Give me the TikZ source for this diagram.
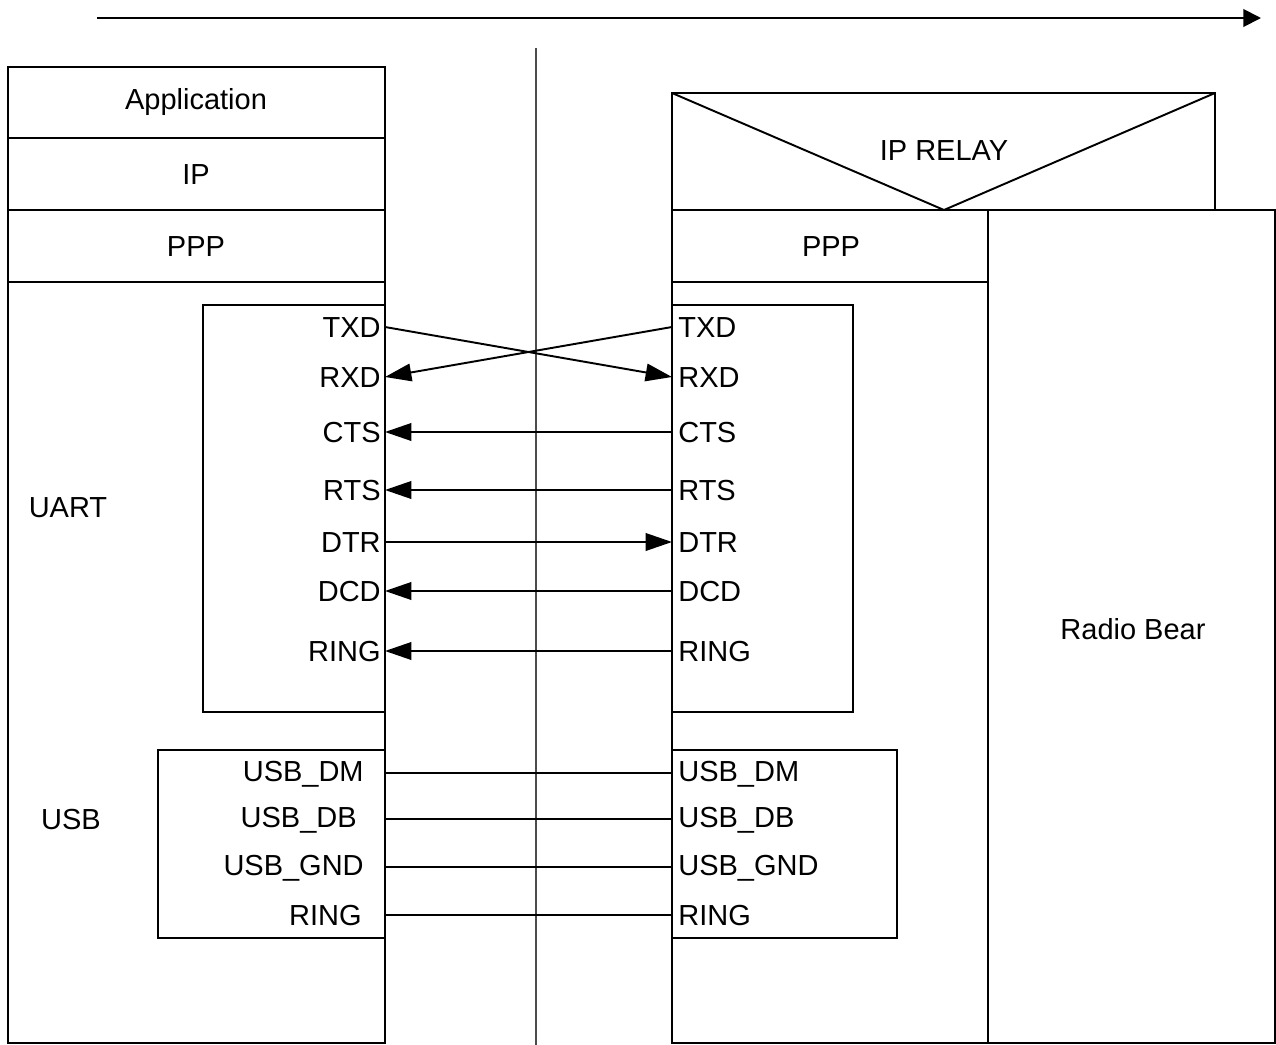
\documentclass[tikz,border=0pt]{standalone}
\usepackage{fontspec}
\setmainfont{Liberation Sans}
\usetikzlibrary{arrows.meta}
\begin{document}
\begin{tikzpicture}[x=0.02cm,y=-0.02cm,
  box/.style={draw=black,line width=1.1pt},
  lbl/.style={font=\fontsize{16.5}{18}\selectfont,inner sep=0pt},
  sig/.style={line width=1.1pt},
  sigar/.style={line width=1.1pt,-{Triangle[length=15pt,width=10pt]}},
  toparr/.style={line width=1.1pt,-{Triangle[length=10pt,width=10pt]}},
  thin/.style={line width=0.6pt,draw=black!70}]
\useasboundingbox (0,0) rectangle (1276,1045);
% direction arrow
\coordinate (aS) at (97,18);
\coordinate (aE) at (1261,18);
\draw[toparr] (aS) -- (aE);
% separator
\coordinate (sT) at (536,48);
\coordinate (sB) at (536,1045);
\draw[thin] (sT) -- (sB);
% left stack
\draw[box] (8,67) rectangle (385,138);
\draw[box] (8,138) rectangle (385,210);
\draw[box] (8,210) rectangle (385,282);
\draw[box] (8,282) rectangle (385,1043);
\node[lbl] (app) at (196,102) {Application};
\node[lbl] (ipl) at (196,175) {IP};
\node[lbl] (pppl) at (196,247) {PPP};
\node[lbl] (uart) at (68,508) {UART};
\node[lbl] (usb) at (71,820) {USB};
\draw[box] (203,305) rectangle (385,712);
\draw[box] (158,750) rectangle (385,938);
% right stack
\draw[box] (672,93) rectangle (1215,210);
\draw[line width=1.1pt] (672,93) -- (944,210) -- (1215,93);
\node[lbl] (iprelay) at (944,151) {IP RELAY};
\draw[box] (672,210) rectangle (988,282);
\node[lbl] (pppr) at (831,247) {PPP};
\draw[box] (672,282) rectangle (988,1043);
\draw[box] (988,210) rectangle (1275,1043);
\node[lbl] (radio) at (1133,629) {Radio Bear};
\draw[box] (672,305) rectangle (853,712);
\draw[box] (672,750) rectangle (897,938);
% pin labels and coordinates
\foreach \nm/\t/\yy in {TXD/TXD/327,RXD/RXD/377,CTS/CTS/432,RTS/RTS/490,DTR/DTR/542,DCD/DCD/591,RING/RING/651}{
  \node[lbl,anchor=east] (lt\nm) at (381,\yy+1) {\t};
  \node[lbl,anchor=west] (rt\nm) at (678,\yy+1) {\t};
  \coordinate (l\nm) at (385,\yy);
  \coordinate (r\nm) at (672,\yy);
}
\foreach \nm/\t/\yy/\xe in {DM/USB\_DM/773/364,DB/USB\_DB/819/357,GND/USB\_GND/867/364,URING/RING/915/362}{
  \node[lbl,anchor=east] (lt\nm) at (\xe,\yy+1) {\t};
  \node[lbl,anchor=west] (rt\nm) at (678,\yy+1) {\t};
  \coordinate (l\nm) at (385,\yy);
  \coordinate (r\nm) at (672,\yy);
}
% connectors
\draw[sigar] (lTXD) -- (rRXD);
\draw[sigar] (rTXD) -- (lRXD);
\draw[sigar] (rCTS) -- (lCTS);
\draw[sigar] (rRTS) -- (lRTS);
\draw[sigar] (lDTR) -- (rDTR);
\draw[sigar] (rDCD) -- (lDCD);
\draw[sigar] (rRING) -- (lRING);
\draw[sig] (lDM) -- (rDM);
\draw[sig] (lDB) -- (rDB);
\draw[sig] (lGND) -- (rGND);
\draw[sig] (lURING) -- (rURING);
\end{tikzpicture}
\end{document}
